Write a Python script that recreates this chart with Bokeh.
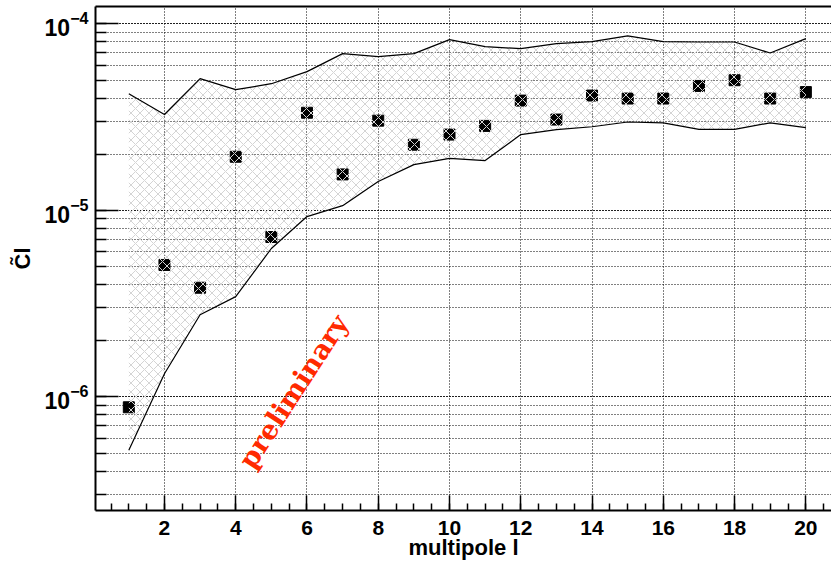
from bokeh.plotting import figure
from bokeh.models import Range1d, SingleIntervalTicker, LogTicker, Label, ColumnDataSource, LinearAxis, FixedTicker
from bokeh.embed import file_html
from bokeh.resources import INLINE

# multipole values
multipole = [1, 2, 3, 4, 5, 6, 7, 8, 9, 10, 11, 12, 13, 14, 15, 16, 17, 18, 19, 20]
# measured C~l
cl = [8.8e-7, 5.1e-6, 3.85e-6, 1.94e-5, 7.2e-6, 3.34e-5, 1.56e-5, 3.03e-5, 2.25e-5, 2.55e-5,
      2.84e-5, 3.88e-5, 3.07e-5, 4.13e-5, 3.98e-5, 3.98e-5, 4.65e-5, 4.99e-5, 3.98e-5, 4.31e-5]
# band upper / lower edges
band_upper = [4.22e-5, 3.27e-5, 5.09e-5, 4.44e-5, 4.78e-5, 5.55e-5, 6.93e-5, 6.68e-5, 6.93e-5, 8.24e-5,
              7.55e-5, 7.37e-5, 7.84e-5, 8.04e-5, 8.62e-5, 8.04e-5, 8.0e-5, 8.0e-5, 6.98e-5, 8.34e-5]
band_lower = [5.17e-7, 1.33e-6, 2.76e-6, 3.45e-6, 6.25e-6, 9.27e-6, 1.06e-5, 1.43e-5, 1.76e-5, 1.90e-5,
              1.85e-5, 2.55e-5, 2.71e-5, 2.81e-5, 2.98e-5, 2.95e-5, 2.72e-5, 2.72e-5, 2.95e-5, 2.78e-5]

x_title = "multipole l"
y_title = "C\u0303l"
stamp = "preliminary"

src = ColumnDataSource(dict(x=multipole, cl=cl, up=band_upper, lo=band_lower))

p = figure(width=831, height=562, output_backend="svg", toolbar_location=None,
           y_axis_type="log",
           x_range=Range1d(0.065, 20.72), y_range=Range1d(2.46e-7, 1.24e-4),
           min_border_left=95, min_border_right=0, min_border_top=6, min_border_bottom=52)

p.background_fill_color = "white"
p.border_fill_color = "white"
p.outline_line_color = None

# markers first (hatch is drawn over them)
p.scatter("x", "cl", source=src, marker="square", size=11, fill_color="black", line_color="black")

p.varea(x="x", y1="lo", y2="up", source=src, fill_color=None, fill_alpha=0,
        hatch_pattern="x", hatch_color="#d4d4d4", hatch_scale=9, hatch_weight=1)

p.line("x", "up", source=src, line_color="black", line_width=1.2)
p.line("x", "lo", source=src, line_color="black", line_width=1.2)

# top frame line (plain axis line without ticks or labels)
top = LinearAxis(ticker=FixedTicker(ticks=[]),
                 major_tick_in=0, major_tick_out=0, minor_tick_in=0, minor_tick_out=0,
                 major_label_standoff=0,
                 axis_line_color="black", axis_line_width=2,
                 major_tick_line_color=None, minor_tick_line_color=None)
p.add_layout(top, "above")

# axes
p.xaxis.ticker = SingleIntervalTicker(interval=2, num_minor_ticks=4)
p.yaxis.ticker = LogTicker(num_minor_ticks=10)
top.ticker = FixedTicker(ticks=[])

bottom = p.below[0]
left = p.left[0]
for ax in (bottom, left):
    ax.axis_line_color = "black"
    ax.axis_line_width = 2
    ax.major_tick_line_color = "black"
    ax.minor_tick_line_color = "black"
    ax.major_tick_line_width = 1.5
    ax.minor_tick_line_width = 1.5
    ax.major_tick_out = 0
    ax.minor_tick_out = 0
    ax.major_label_text_font = "Liberation Sans"
    ax.major_label_text_font_style = "bold"
    ax.major_label_text_color = "black"
    ax.axis_label_text_font = "Liberation Sans"
    ax.axis_label_text_font_style = "bold"
    ax.axis_label_text_color = "black"
    ax.axis_label_text_font_size = "22px"

bottom.major_tick_in = 15
bottom.minor_tick_in = 7
left.major_tick_in = 23
left.minor_tick_in = 11
bottom.major_label_text_font_size = "21px"
left.major_label_text_font_size = "23px"
bottom.major_label_standoff = 10
left.major_label_standoff = 7
bottom.axis_label = x_title
bottom.axis_label_standoff = -3
left.axis_label = y_title
left.axis_label_standoff = 7

# grids
p.xgrid.grid_line_color = "black"
p.xgrid.grid_line_dash = "1 2"
p.xgrid.grid_line_width = 1
p.ygrid.grid_line_color = "black"
p.ygrid.grid_line_dash = "1 2"
p.ygrid.grid_line_width = 1
p.ygrid.minor_grid_line_color = "black"
p.ygrid.minor_grid_line_dash = "1 2"
p.ygrid.minor_grid_line_width = 1

p.add_layout(Label(x=5.62, y=1.07e-6, text=stamp, angle=57, angle_units="deg",
                   text_align="center", text_baseline="middle", text_color="#ff2a00",
                   text_font="DejaVu Serif", text_font_style="bold", text_font_size="27px"))

open("out.html", "w").write(file_html(p, INLINE))
